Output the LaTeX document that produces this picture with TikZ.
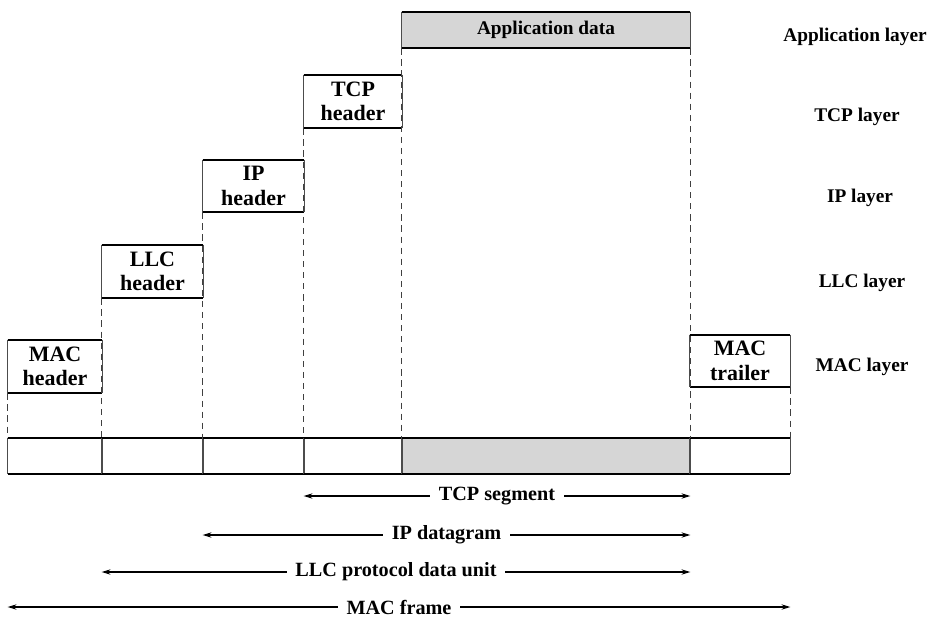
\documentclass[tikz,border=0pt]{standalone}
\usepackage{fontspec}
\setmainfont{Liberation Serif}
\usetikzlibrary{arrows.meta}

\begin{document}
\begin{tikzpicture}[x=0.02cm,y=-0.02cm,
    cell/.style={inner sep=0pt,align=center,font=\fontsize{12.5}{14}\selectfont\bfseries},
    lyr/.style={font=\fontsize{11}{13}\selectfont\bfseries},
    rim/.style={line width=1.1pt},
    side/.style={line width=0.5pt,black!70},
    guide/.style={line width=0.7pt,black!75,dash pattern=on 3.5pt off 2.8pt},
    span/.style={line width=0.6pt,{Stealth[length=5pt,width=3pt]}-{Stealth[length=5pt,width=3pt]}},
    spanlbl/.style={fill=white,inner xsep=5pt,font=\fontsize{11.5}{13}\selectfont\bfseries}]
    \useasboundingbox (0,0) rectangle (929,626);

    \node[cell,minimum width=5.76cm,minimum height=0.72cm,fill=black!16] (appd) at (546,30) {\fontsize{11}{13}\selectfont Application data};
    \node[cell,minimum width=1.96cm,minimum height=1.06cm] (tcph) at (353,101.5) {TCP\\header};
    \node[cell,minimum width=2.02cm,minimum height=1.04cm] (iph) at (253.5,186) {IP\\header};
    \node[cell,minimum width=2.02cm,minimum height=1.06cm] (llch) at (152.5,271.5) {LLC\\header};
    \node[cell,minimum width=1.88cm,minimum height=1.06cm] (mach) at (55,366.5) {MAC\\header};
    \node[cell,minimum width=2.00cm,minimum height=1.04cm] (mact) at (740,361) {MAC\\trailer};

    \node[cell,minimum width=1.88cm,minimum height=0.72cm] (f1) at (55,456) {};
    \node[cell,minimum width=2.02cm,minimum height=0.72cm] (f2) at (152.5,456) {};
    \node[cell,minimum width=2.02cm,minimum height=0.72cm] (f3) at (253.5,456) {};
    \node[cell,minimum width=1.96cm,minimum height=0.72cm] (f4) at (353,456) {};
    \node[cell,minimum width=5.76cm,minimum height=0.72cm,fill=black!16] (f5) at (546,456) {};
    \node[cell,minimum width=2.00cm,minimum height=0.72cm] (f6) at (740,456) {};

    \foreach \n in {appd,tcph,iph,llch,mach,mact,f1,f2,f3,f4,f5,f6} {
        \draw[side] (\n.north west) -- (\n.south west);
        \draw[side] (\n.north east) -- (\n.south east);
        \draw[rim] (\n.north west) -- (\n.north east);
        \draw[rim] (\n.south west) -- (\n.south east);
    }

    \draw[guide] (mach.south west) -- (f1.north west);
    \draw[guide] (llch.south west) -- (f2.north west);
    \draw[guide] (iph.south west) -- (f3.north west);
    \draw[guide] (tcph.south west) -- (f4.north west);
    \draw[guide] (appd.south west) -- (f5.north west);
    \draw[guide] (appd.south east) -- (f5.north east);
    \draw[guide] (mact.south east) -- (f6.north east);

    \node[lyr] (applyr) at (855,37) {Application layer};
    \node[lyr] (tcplyr) at (857,117) {TCP layer};
    \node[lyr] (iplyr) at (860,198) {IP layer};
    \node[lyr] (llclyr) at (862,283) {LLC layer};
    \node[lyr] (maclyr) at (862,367) {MAC layer};

    \draw[span] (f4.south west |- 0,496) -- node[spanlbl] {TCP segment} (f5.south east |- 0,496);
    \draw[span] (f3.south west |- 0,535) -- node[spanlbl] {IP datagram} (f5.south east |- 0,535);
    \draw[span] (f2.south west |- 0,572) -- node[spanlbl] {LLC protocol data unit} (f5.south east |- 0,572);
    \draw[span] (f1.south west |- 0,607) -- node[spanlbl] {MAC frame} (f6.south east |- 0,607);
\end{tikzpicture}
\end{document}
